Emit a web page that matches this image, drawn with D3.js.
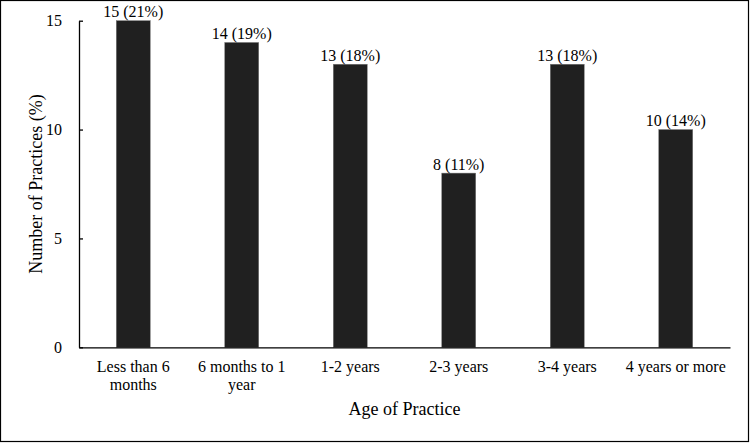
<!DOCTYPE html>
<html>
<head>
<meta charset="utf-8">
<script src="https://cdn.jsdelivr.net/npm/d3@7"></script>
<style>
  html, body { margin: 0; padding: 0; background: #fff; }
  svg { display: block; }
  text { font-family: "Liberation Serif", "Times New Roman", serif; fill: #000; }
</style>
</head>
<body>
<svg id="chart" width="750" height="443"></svg>
<script>
const categories = ["Less than 6 months", "6 months to 1 year", "1-2 years", "2-3 years", "3-4 years", "4 years or more"];
const categoryLines = [["Less than 6", "months"], ["6 months to 1", "year"], ["1-2 years"], ["2-3 years"], ["3-4 years"], ["4 years or more"]];
const counts = [15, 14, 13, 8, 13, 10];
const percents = [21, 19, 18, 11, 18, 14];
const yTicks = [0, 5, 10, 15];

(function () {
const svg = d3.select("#chart");
const pLeft = 79, pRight = 730, pTop = 20.7, pBottom = 347.3;

svg.append("rect").attr("x", 0.5).attr("y", 0.5).attr("width", 748).attr("height", 441)
  .attr("fill", "#fff").attr("stroke", "#000").attr("stroke-width", 1.2);

const x = d3.scaleBand().domain(categories).range([pLeft, pRight]).paddingInner(0.687).paddingOuter(0.3435);
const y = d3.scaleLinear().domain([0, 15]).range([pBottom, pTop]);

// bars
svg.append("g").selectAll("rect").data(categories).join("rect")
  .attr("x", d => x(d))
  .attr("y", (d, i) => y(counts[i]))
  .attr("width", x.bandwidth())
  .attr("height", (d, i) => y(0) - y(counts[i]))
  .attr("fill", "#202020")
  .attr("stroke", "#777").attr("stroke-width", 0.5);

// value labels
svg.append("g").selectAll("text").data(categories).join("text")
  .attr("x", d => x(d) + x.bandwidth() / 2)
  .attr("y", (d, i) => y(counts[i]) - 3.5)
  .attr("text-anchor", "middle")
  .attr("font-size", 16)
  .text((d, i) => `${counts[i]} (${percents[i]}%)`);

// y axis
const yAxis = d3.axisLeft(y).tickValues(yTicks).tickSizeInner(-4).tickSizeOuter(0).tickPadding(17);
const gy = svg.append("g").attr("transform", `translate(${pLeft},0)`).call(yAxis);
gy.select(".domain").attr("stroke", "#000").attr("stroke-width", 1.3);
gy.selectAll(".tick line").attr("stroke", "#000").attr("stroke-width", 1.3);
gy.selectAll(".tick text").attr("font-size", 16).attr("font-family", "Liberation Serif, serif").attr("fill", "#000");

// x axis
const xAxis = d3.axisBottom(x).tickSize(0).tickFormat("");
const gx = svg.append("g").attr("transform", `translate(0,${pBottom})`).call(xAxis);
gx.select(".domain").attr("stroke", "#000").attr("stroke-width", 1.3);

// x tick labels (wrapped)
const xl = svg.append("g").selectAll("text").data(categories).join("text")
  .attr("x", d => x(d) + x.bandwidth() / 2)
  .attr("y", 372)
  .attr("text-anchor", "middle")
  .attr("font-size", 16);
xl.each(function(d, i) {
  const t = d3.select(this);
  categoryLines[i].forEach((line, j) => {
    t.append("tspan").attr("x", x(d) + x.bandwidth() / 2).attr("dy", j === 0 ? 0 : 18).text(line);
  });
});

// axis titles
svg.append("text").attr("x", (pLeft + pRight) / 2).attr("y", 415)
  .attr("text-anchor", "middle").attr("font-size", 18).text("Age of Practice");

svg.append("text")
  .attr("transform", `translate(41.5,${(pTop + pBottom) / 2}) rotate(-90)`)
  .attr("text-anchor", "middle").attr("font-size", 18).text("Number of Practices (%)");
})();
</script>
</body>
</html>
